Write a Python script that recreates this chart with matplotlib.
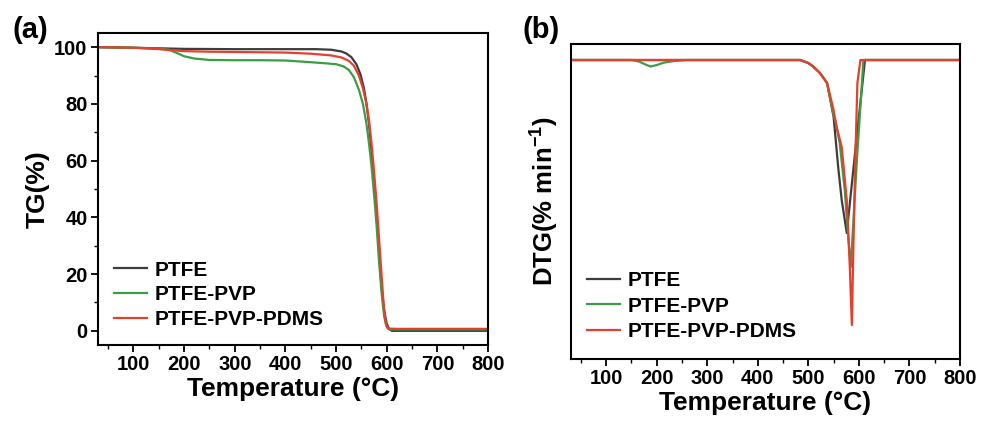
import matplotlib
matplotlib.use('Agg')
import matplotlib.pyplot as plt
from matplotlib.ticker import MultipleLocator

plt.rcParams['font.family'] = ['Liberation Sans', 'DejaVu Sans']
plt.rcParams['font.weight'] = 'bold'
plt.rcParams['mathtext.fontset'] = 'custom'
plt.rcParams['mathtext.rm'] = 'Liberation Sans:bold'
plt.rcParams['mathtext.bf'] = 'Liberation Sans:bold'
plt.rcParams['mathtext.default'] = 'bf'

labels = ['PTFE', 'PTFE-PVP', 'PTFE-PVP-PDMS']
colors = ['#3d3d3d', '#3a9e45', '#e5402e']

# TG curves (temperature in degC, mass in %)
tg_ptfe_t = [30, 100, 150, 200, 300, 400, 460, 490, 510, 520, 530, 540, 548, 555, 560, 565,
             570, 575, 580, 585, 590, 595, 600, 605, 610, 620, 700, 800]
tg_ptfe_v = [100, 99.8, 99.6, 99.4, 99.3, 99.3, 99.3, 99.1, 98.5, 97.8, 96.5, 94, 90.5, 85.5, 80, 73,
             63, 52, 40, 27, 15, 7, 2.5, 0.6, 0, 0, 0, 0]

tg_pvp_t = [30, 100, 150, 170, 185, 200, 220, 250, 300, 350, 400, 450, 480, 500, 515, 525, 535,
            545, 553, 560, 565, 570, 575, 580, 585, 590, 595, 600, 606, 620, 800]
tg_pvp_v = [100, 99.8, 99.5, 99.1, 98, 96.8, 96, 95.5, 95.4, 95.4, 95.3, 94.7, 94.3, 94, 93.2, 92, 89.5,
            85, 80, 73, 66, 58, 48, 37, 24, 13, 5, 1.5, 0.5, 0.5, 0.5]

tg_pdms_t = [30, 100, 150, 200, 250, 300, 400, 450, 490, 510, 525, 535, 545, 553, 560, 565, 570,
             575, 580, 585, 590, 594, 598, 602, 620, 800]
tg_pdms_v = [100, 99.8, 99.3, 98.6, 98.4, 98.3, 98.1, 97.7, 97.1, 96.4, 95.2, 93.5, 90, 85.5, 80, 74, 66,
             56, 45, 32, 19, 9, 2.5, 0.8, 0.7, 0.7]

# DTG curves (arbitrary units, % min^-1)
dtg_ptfe_t = [30, 150, 300, 450, 484, 500, 510, 523, 537, 550, 559, 566, 576, 594, 612, 620, 800]
dtg_ptfe_v = [0, 0, 0, 0, 0, -0.3, -0.67, -1.3, -2.3, -5.7, -10.7, -14, -17.3, -8.5, 0, 0, 0]

dtg_pvp_t = [30, 150, 165, 180, 188, 200, 215, 235, 260, 450, 484, 500, 510, 523, 537, 549, 553,
             562, 572, 579, 584, 596, 609, 620, 800]
dtg_pvp_v = [0, 0, -0.15, -0.5, -0.65, -0.5, -0.25, -0.1, 0, 0, 0, -0.3, -0.67, -1.3, -2.3, -5.3, -6.0,
             -8.3, -13, -17.7, -20.7, -10, 0, 0, 0]

dtg_pdms_t = [30, 150, 450, 484, 500, 510, 523, 537, 549, 556, 566, 576, 582, 586, 589, 592.5,
              597, 603, 620, 800]
dtg_pdms_v = [0, 0, 0, 0, -0.3, -0.67, -1.3, -2.3, -4.8, -6.7, -8.7, -14, -20.7, -26.5, -19, -10.7,
              -2.3, 0, 0, 0]

tg = [(tg_ptfe_t, tg_ptfe_v), (tg_pvp_t, tg_pvp_v), (tg_pdms_t, tg_pdms_v)]
dtg = [(dtg_ptfe_t, dtg_ptfe_v), (dtg_pvp_t, dtg_pvp_v), (dtg_pdms_t, dtg_pdms_v)]

fig = plt.figure(figsize=(9.81, 4.24), dpi=100)
ax1 = fig.add_axes([0.0999, 0.1863, 0.3976, 0.7359])
ax2 = fig.add_axes([0.5818, 0.1533, 0.3968, 0.7429])


def style(ax):
    for s in ax.spines.values():
        s.set_linewidth(1.5)
    ax.set_xlim(30, 800)
    ax.xaxis.set_major_locator(MultipleLocator(100))
    ax.xaxis.set_minor_locator(MultipleLocator(50))
    ax.tick_params(which='major', direction='out', length=5, width=1.3, labelsize=14.5, pad=2.5)
    ax.tick_params(which='minor', direction='out', length=3, width=1.0)
    ax.set_xlabel('Temperature (°C)', fontsize=19, fontweight='bold', labelpad=2)
    for lab in ax.get_xticklabels() + ax.get_yticklabels():
        lab.set_fontweight('bold')


for (t, v), c, lab in zip(tg, colors, labels):
    ax1.plot(t, v, color=c, lw=1.6, label=lab)
style(ax1)
ax1.set_ylim(-5, 105)
ax1.yaxis.set_major_locator(MultipleLocator(20))
ax1.yaxis.set_minor_locator(MultipleLocator(10))
ax1.set_ylabel('TG(%)', fontsize=19, fontweight='bold', labelpad=3)
ax1.legend(loc='lower left', bbox_to_anchor=(0.02, 0.025), frameon=False, fontsize=15,
           handlelength=1.6, handletextpad=0.35, labelspacing=0.27, borderaxespad=0)
ax1.text(-0.22, 1.01, '(a)', transform=ax1.transAxes, fontsize=21, fontweight='bold',
         ha='left', va='center')

for (t, v), c, lab in zip(dtg, colors, labels):
    ax2.plot(t, v, color=c, lw=1.6, label=lab)
style(ax2)
ax2.set_ylim(-29.9, 1.6)
ax2.set_yticks([])
ax2.set_ylabel('DTG(% min$^{-1}$)', fontsize=18.5, fontweight='bold', labelpad=7)
ax2.legend(loc='lower left', bbox_to_anchor=(0.02, 0.03), frameon=False, fontsize=15,
           handlelength=1.6, handletextpad=0.35, labelspacing=0.32, borderaxespad=0)
ax2.text(-0.125, 1.045, '(b)', transform=ax2.transAxes, fontsize=21, fontweight='bold',
         ha='left', va='center')

fig.savefig('out.png', dpi=100)
